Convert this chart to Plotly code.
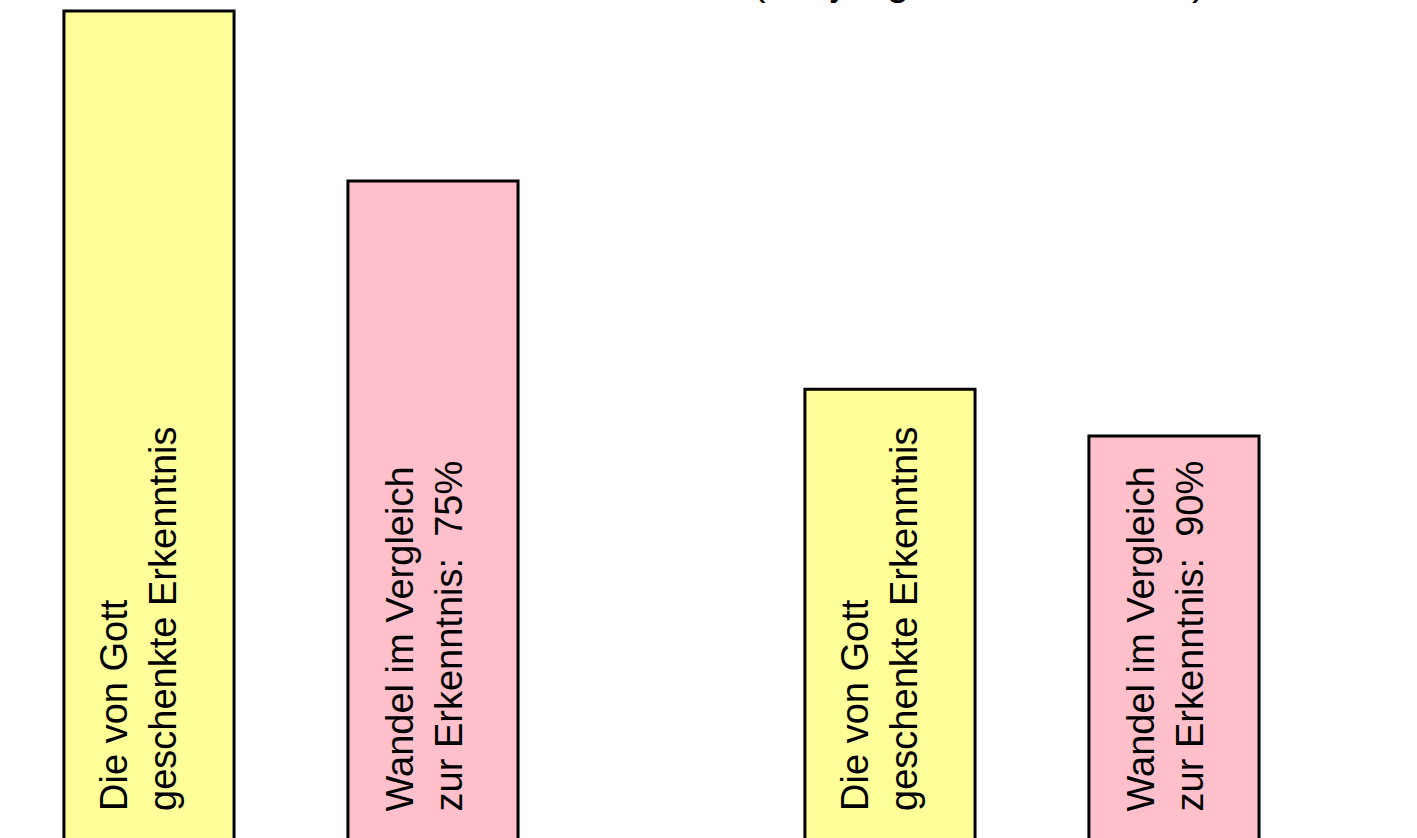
import plotly.graph_objects as go

groups = ["Gruppe 1", "Gruppe 2"]
erkenntnis = [100, 55.5]
wandel = [80, 50]
labels_erkenntnis = ["Die von Gott<br>geschenkte Erkenntnis", "Die von Gott<br>geschenkte Erkenntnis"]
labels_wandel = ["Wandel im Vergleich<br>zur Erkenntnis:\u00a0 75%", "Wandel im Vergleich<br>zur Erkenntnis:\u00a0 90%"]
title_text = "(bei jüngeren Menschen)"

YELLOW = "#FFFF99"
PINK = "#FFC0CB"
FONT = "Liberation Sans, Arial, sans-serif"

fig = go.Figure()
fig.add_trace(go.Bar(x=groups, y=erkenntnis, marker=dict(color=YELLOW, line=dict(color="black", width=3)), hoverinfo="skip"))
fig.add_trace(go.Bar(x=groups, y=wandel, marker=dict(color=PINK, line=dict(color="black", width=3)), hoverinfo="skip"))

annotations = []
for i, g in enumerate(groups):
    for lab, shift in ((labels_erkenntnis[i], -152), (labels_wandel[i], 133)):
        annotations.append(dict(
            x=g, y=5.65, xref="x", yref="y", xshift=shift,
            text=lab, showarrow=False, textangle=-90,
            xanchor="center", yanchor="bottom", align="left",
            font=dict(family=FONT, size=38, color="black"),
        ))
annotations.append(dict(
    x=1208 / 1417, y=1, xref="paper", yref="paper", xanchor="right", yanchor="bottom",
    yshift=-6, text=title_text, showarrow=False,
    font=dict(family=FONT, size=41, color="black"),
))

fig.update_layout(
    width=1417, height=838,
    margin=dict(l=0, r=0, t=0, b=0),
    paper_bgcolor="white", plot_bgcolor="white",
    barmode="group", bargap=0.2335, bargroupgap=0.401,
    showlegend=False,
    xaxis=dict(range=[-0.3927, 1.5196], visible=False),
    yaxis=dict(range=[2.7, 101.3], visible=False),
    annotations=annotations,
)

fig.write_html(
    "out.html",
    config={"displayModeBar": False},
    post_script="document.body.style.margin='0';document.body.style.overflow='hidden';",
)
